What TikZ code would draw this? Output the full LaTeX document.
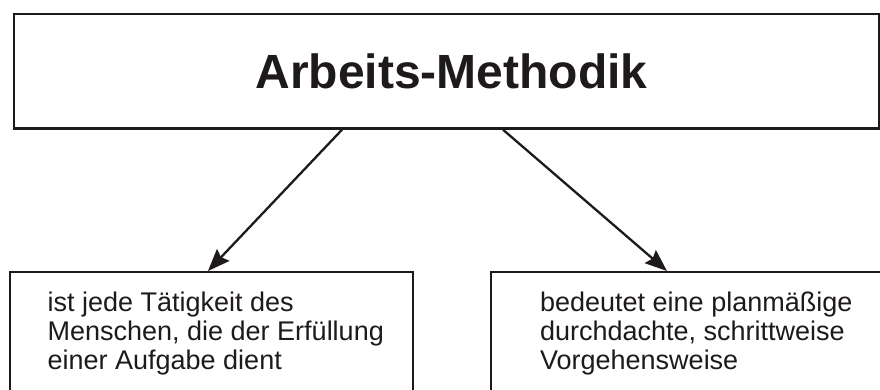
\documentclass[tikz,border=0pt]{standalone}
\usepackage{fontspec}
\setmainfont{Liberation Sans}
\usetikzlibrary{arrows.meta,positioning,calc}
\definecolor{ink}{RGB}{30,26,26}
\tikzset{box/.style={draw=ink, rectangle, line width=2.2pt, inner sep=0pt}}
\tikzstyle{bodytext}=[text=ink, align=left, inner sep=0pt, font=\fontsize{27}{28.6}\selectfont]

\begin{document}
\begin{tikzpicture}[x=1pt, y=-1pt, >={Stealth[length=22pt,width=17pt,inset=3pt]}, line width=2.3pt]
\clip (0,0) rectangle (880,390);
% boxes
\node[box, anchor=north west, minimum width=865.5pt, minimum height=114.5pt,
      font=\bfseries\fontsize{48}{56}\selectfont, text=ink] (title) at (12.5,13) {\hspace*{10pt}Arbeits-Methodik};
\node[box, anchor=north west, minimum width=403pt, minimum height=140pt] (lbox) at (9,271) {};
\node[box, anchor=north west, minimum width=420pt, minimum height=140pt] (rbox) at (490,271) {};
% texts (base = last line)
\node[bodytext, anchor=base west] (ltext) at ([xshift=37.5pt,yshift=-98pt]lbox.north west)
     {ist jede Tätigkeit des\\Menschen, die der Erfüllung\\einer Aufgabe dient};
\node[bodytext, anchor=base west] (rtext) at ([xshift=49pt,yshift=-98pt]rbox.north west)
     {bedeutet eine planmäßige\\durchdachte, schrittweise\\Vorgehensweise};
% arrows
\draw[->, ink] ([xshift=329.5pt]title.south west) -- ([xshift=199pt]lbox.north west);
\draw[->, ink] ([xshift=490.5pt]title.south west) -- ([xshift=177pt]rbox.north west);
\end{tikzpicture}
\end{document}
